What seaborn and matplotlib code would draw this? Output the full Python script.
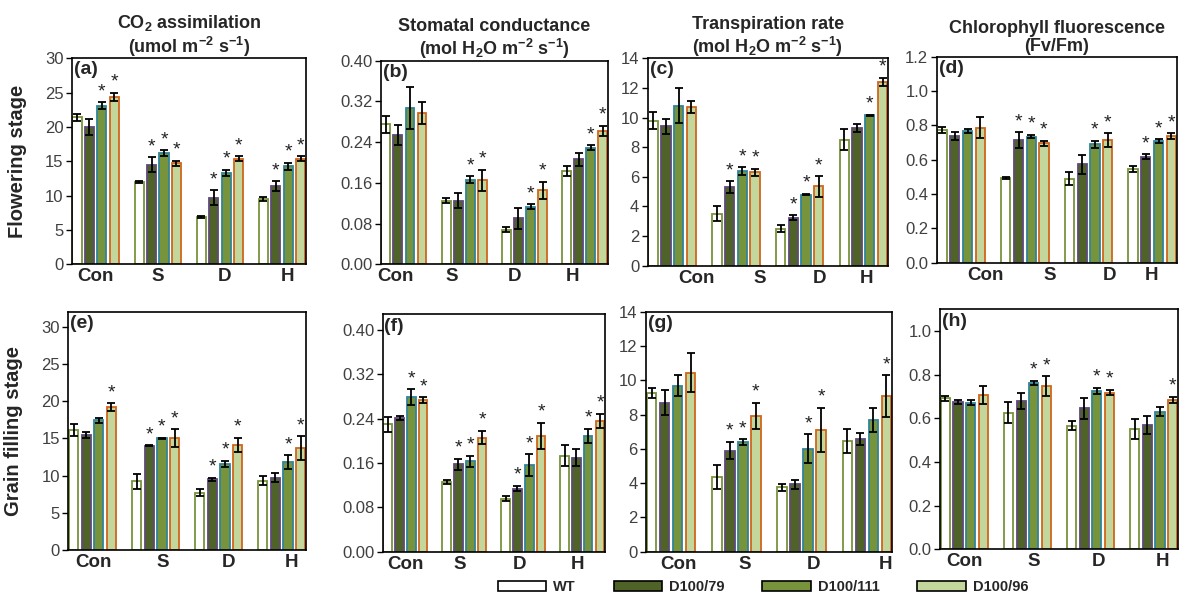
import numpy as np
import pandas as pd
import matplotlib
matplotlib.use('Agg')
import matplotlib.pyplot as plt
from matplotlib.patches import Patch
import seaborn as sns

sns.set_theme(style='white')
plt.rcParams['font.family'] = ['Liberation Sans', 'DejaVu Sans']
plt.rcParams['mathtext.fontset'] = 'custom'
plt.rcParams['mathtext.rm'] = 'Liberation Sans:bold'
plt.rcParams['mathtext.it'] = 'Liberation Sans:bold'
plt.rcParams['mathtext.bf'] = 'Liberation Sans:bold'
plt.rcParams['mathtext.default'] = 'rm'

groups = ['Con', 'S', 'D', 'H']
genotypes = ['WT', 'D100/79', 'D100/111', 'D100/96']
fill_colors = ['#FFFFFF', '#4F6228', '#77933C', '#C3D69B']
edge_colors = ['#77933C', '#5F497A', '#31849B', '#D0661C']

# rows = genotype (WT, D100/79, D100/111, D100/96), cols = Con, S, D, H
co2_fl = [[21.4, 12.0, 6.9, 9.5], [20.0, 14.5, 9.7, 11.4], [23.1, 16.2, 13.3, 14.3], [24.4, 14.7, 15.4, 15.4]]
co2_fl_err = [[0.5, 0.1, 0.1, 0.3], [1.2, 1.1, 1.1, 0.7], [0.5, 0.4, 0.5, 0.5], [0.6, 0.4, 0.3, 0.3]]
co2_fl_sig = [[0, 0, 0, 0], [0, 1, 1, 1], [1, 1, 1, 1], [1, 1, 1, 1]]

gs_fl = [[0.275, 0.125, 0.068, 0.184], [0.254, 0.125, 0.090, 0.206], [0.307, 0.166, 0.113, 0.229], [0.297, 0.165, 0.145, 0.262]]
gs_fl_err = [[0.017, 0.005, 0.005, 0.010], [0.020, 0.015, 0.020, 0.012], [0.041, 0.007, 0.005, 0.005], [0.022, 0.021, 0.017, 0.010]]
gs_fl_sig = [[0, 0, 0, 0], [0, 0, 0, 0], [0, 1, 1, 1], [0, 1, 1, 1]]

tr_fl = [[9.8, 3.5, 2.5, 8.5], [9.4, 5.3, 3.25, 9.3], [10.8, 6.4, 4.8, 10.15], [10.7, 6.3, 5.35, 12.4]]
tr_fl_err = [[0.6, 0.5, 0.25, 0.7], [0.5, 0.4, 0.15, 0.25], [1.2, 0.25, 0.05, 0.05], [0.4, 0.25, 0.7, 0.3]]
tr_fl_sig = [[0, 0, 0, 0], [0, 1, 1, 0], [0, 1, 1, 1], [0, 1, 1, 1]]

cf_fl = [[0.773, 0.495, 0.490, 0.546], [0.738, 0.715, 0.573, 0.617], [0.767, 0.734, 0.690, 0.709], [0.786, 0.695, 0.715, 0.738]]
cf_fl_err = [[0.020, 0.005, 0.040, 0.020], [0.025, 0.045, 0.055, 0.015], [0.010, 0.010, 0.020, 0.010], [0.060, 0.015, 0.040, 0.015]]
cf_fl_sig = [[0, 0, 0, 0], [0, 1, 0, 1], [0, 1, 1, 1], [0, 1, 1, 1]]

co2_gf = [[16.1, 9.2, 7.7, 9.3], [15.5, 14.0, 9.5, 9.7], [17.4, 15.0, 11.6, 11.8], [19.2, 15.0, 14.1, 13.7]]
co2_gf_err = [[0.8, 1.0, 0.5, 0.6], [0.4, 0.05, 0.2, 0.6], [0.3, 0.1, 0.4, 0.9], [0.5, 1.2, 1.0, 1.6]]
co2_gf_sig = [[0, 0, 0, 0], [0, 1, 1, 0], [0, 1, 1, 1], [1, 1, 1, 1]]

gs_gf = [[0.230, 0.126, 0.096, 0.173], [0.241, 0.158, 0.114, 0.170], [0.279, 0.163, 0.156, 0.209], [0.274, 0.206, 0.209, 0.236]]
gs_gf_err = [[0.014, 0.003, 0.004, 0.019], [0.004, 0.010, 0.005, 0.015], [0.014, 0.010, 0.020, 0.013], [0.005, 0.012, 0.024, 0.013]]
gs_gf_sig = [[0, 0, 0, 0], [0, 1, 1, 0], [1, 1, 1, 1], [1, 1, 1, 1]]

tr_gf = [[9.27, 4.37, 3.75, 6.45], [8.7, 5.9, 3.93, 6.6], [9.68, 6.4, 6.0, 7.68], [10.44, 7.93, 7.1, 9.08]]
tr_gf_err = [[0.3, 0.7, 0.2, 0.7], [0.75, 0.5, 0.25, 0.35], [0.6, 0.15, 0.85, 0.7], [1.15, 0.75, 1.3, 1.2]]
tr_gf_sig = [[0, 0, 0, 0], [0, 1, 0, 0], [0, 1, 1, 0], [0, 1, 1, 1]]

cf_gf = [[0.692, 0.626, 0.566, 0.550], [0.676, 0.679, 0.646, 0.570], [0.672, 0.763, 0.727, 0.630], [0.707, 0.748, 0.718, 0.684]]
cf_gf_err = [[0.010, 0.048, 0.020, 0.045], [0.010, 0.037, 0.047, 0.040], [0.012, 0.010, 0.013, 0.020], [0.040, 0.045, 0.013, 0.015]]
cf_gf_sig = [[0, 0, 0, 0], [0, 0, 0, 0], [0, 1, 1, 0], [0, 1, 1, 1]]

titles = ['CO$_2$ assimilation\n(umol m$^{-2}$ s$^{-1}$)',
          'Stomatal conductance\n(mol H$_2$O m$^{-2}$ s$^{-1}$)',
          'Transpiration rate\n(mol H$_2$O m$^{-2}$ s$^{-1}$)',
          'Chlorophyll fluorescence\n(Fv/Fm)']
row_labels = ['Flowering stage', 'Grain filling stage']

W, H = 1189, 604
fig = plt.figure(figsize=(W / 100, H / 100), dpi=100)

# (label, data, err, sig, ytop, ticks, fmt, rect in px (l, t, r, b), xlabel shift in px)
panels = [
    ('(a)', co2_fl, co2_fl_err, co2_fl_sig, 30, np.arange(0, 31, 5), '{:.0f}', (71.7, 58.3, 306, 264.3), [0, 0, 5, 5]),
    ('(b)', gs_fl, gs_fl_err, gs_fl_sig, 0.40, np.arange(0, 0.41, 0.08), '{:.2f}', (380.7, 60.7, 608, 264.3), [-8, -12, -10, -12]),
    ('(c)', tr_fl, tr_fl_err, tr_fl_sig, 14, np.arange(0, 15, 2), '{:.0f}', (647.7, 58.3, 888, 265.7), [24, 24, 20, 3]),
    ('(d)', cf_fl, cf_fl_err, cf_fl_sig, 1.2, np.arange(0, 1.21, 0.2), '{:.1f}', (936.7, 56.7, 1176.7, 262.7), [24, 25, 21, -1]),
    ('(e)', co2_gf, co2_gf_err, co2_gf_sig, 32.0, np.arange(0, 31, 5), '{:.0f}', (68.3, 311.7, 306, 550), [1, 7, 10, 10]),
    ('(f)', gs_gf, gs_gf_err, gs_gf_sig, 0.429, np.arange(0, 0.41, 0.08), '{:.2f}', (382.7, 314, 605, 551.7), [0, -5, -4, -5]),
    ('(g)', tr_gf, tr_gf_err, tr_gf_sig, 14, np.arange(0, 15, 2), '{:.0f}', (646, 311.7, 892, 551.7), [7, 8, 12, 19]),
    ('(h)', cf_gf, cf_gf_err, cf_gf_sig, 1.1, np.arange(0, 1.01, 0.2), '{:.1f}', (940, 309.3, 1178, 549.3), [0, 6, 8, 9]),
]

for i, (lab, vals, errs, sig, ytop, ticks, fmt, rect, shift) in enumerate(panels):
    l, t, r, b = rect
    ax = fig.add_axes([l / W, 1 - b / H, (r - l) / W, (b - t) / H])
    df = pd.DataFrame([(g, geno, vals[k][j]) for k, geno in enumerate(genotypes)
                       for j, g in enumerate(groups)], columns=['group', 'genotype', 'value'])
    sns.barplot(data=df, x='group', y='value', hue='genotype', order=groups, hue_order=genotypes,
                palette=fill_colors, width=0.8, gap=0.27, errorbar=None, legend=False, ax=ax,
                saturation=1)
    bar_sets = list(ax.containers)
    for k, cont in enumerate(bar_sets):
        xs, ys = [], []
        for p in cont.patches:
            p.set_edgecolor(edge_colors[k])
            p.set_linewidth(1.3)
            xs.append(p.get_x() + p.get_width() / 2)
            ys.append(p.get_height())
        ax.errorbar(xs, ys, yerr=errs[k], fmt='none', ecolor='black', elinewidth=1.3,
                    capsize=3, capthick=1.3, zorder=5)
        for j in range(4):
            if sig[k][j]:
                ax.annotate('*', (xs[j], ys[j] + errs[k][j]), xytext=(0, 1.5), textcoords='offset points',
                            ha='center', va='bottom', fontsize=14, color='#222222')
    ax.set_xlim(-0.385, 3.385)
    ax.set_ylim(0, ytop)
    ax.set_yticks(ticks)
    ax.set_yticklabels([fmt.format(v) for v in ticks], fontsize=12, color='#404040')
    ppu = (r - l) / 3.77
    ax.set_xticks([j + shift[j] / ppu for j in range(4)])
    ax.set_xticklabels(groups, fontsize=13.5, fontweight='bold')
    ax.tick_params(axis='x', length=0, pad=3)
    ax.tick_params(axis='y', left=True, length=4, width=1, direction='out', pad=2, colors='black',
                   labelcolor='#404040')
    ax.set_xlabel('')
    ax.set_ylabel('')
    for s in ax.spines.values():
        s.set_visible(True)
        s.set_color('black')
        s.set_linewidth(1.2)
    ax.text(0.008, 0.985, lab, transform=ax.transAxes, ha='left', va='top', fontsize=14,
            fontweight='bold')
    if i < 4:
        ax.set_title(titles[i], fontsize=13, fontweight='bold', pad=4, linespacing=1.1)
    if i % 4 == 0:
        ax.set_ylabel(row_labels[i // 4], fontsize=14.5, fontweight='bold')
        ax.yaxis.set_label_coords(-0.19, 0.5)

handles = [Patch(facecolor=c, edgecolor='black', linewidth=1.2) for c in fill_colors]
leg = fig.legend(handles, genotypes, loc='center', bbox_to_anchor=(763 / W, 1 - 587 / H), ncol=4,
                 frameon=False, handlelength=3.3, handleheight=0.75, handletextpad=0.5,
                 columnspacing=2.6, prop={'weight': 'bold', 'size': 10.5})

fig.savefig('out.png', dpi=100)
